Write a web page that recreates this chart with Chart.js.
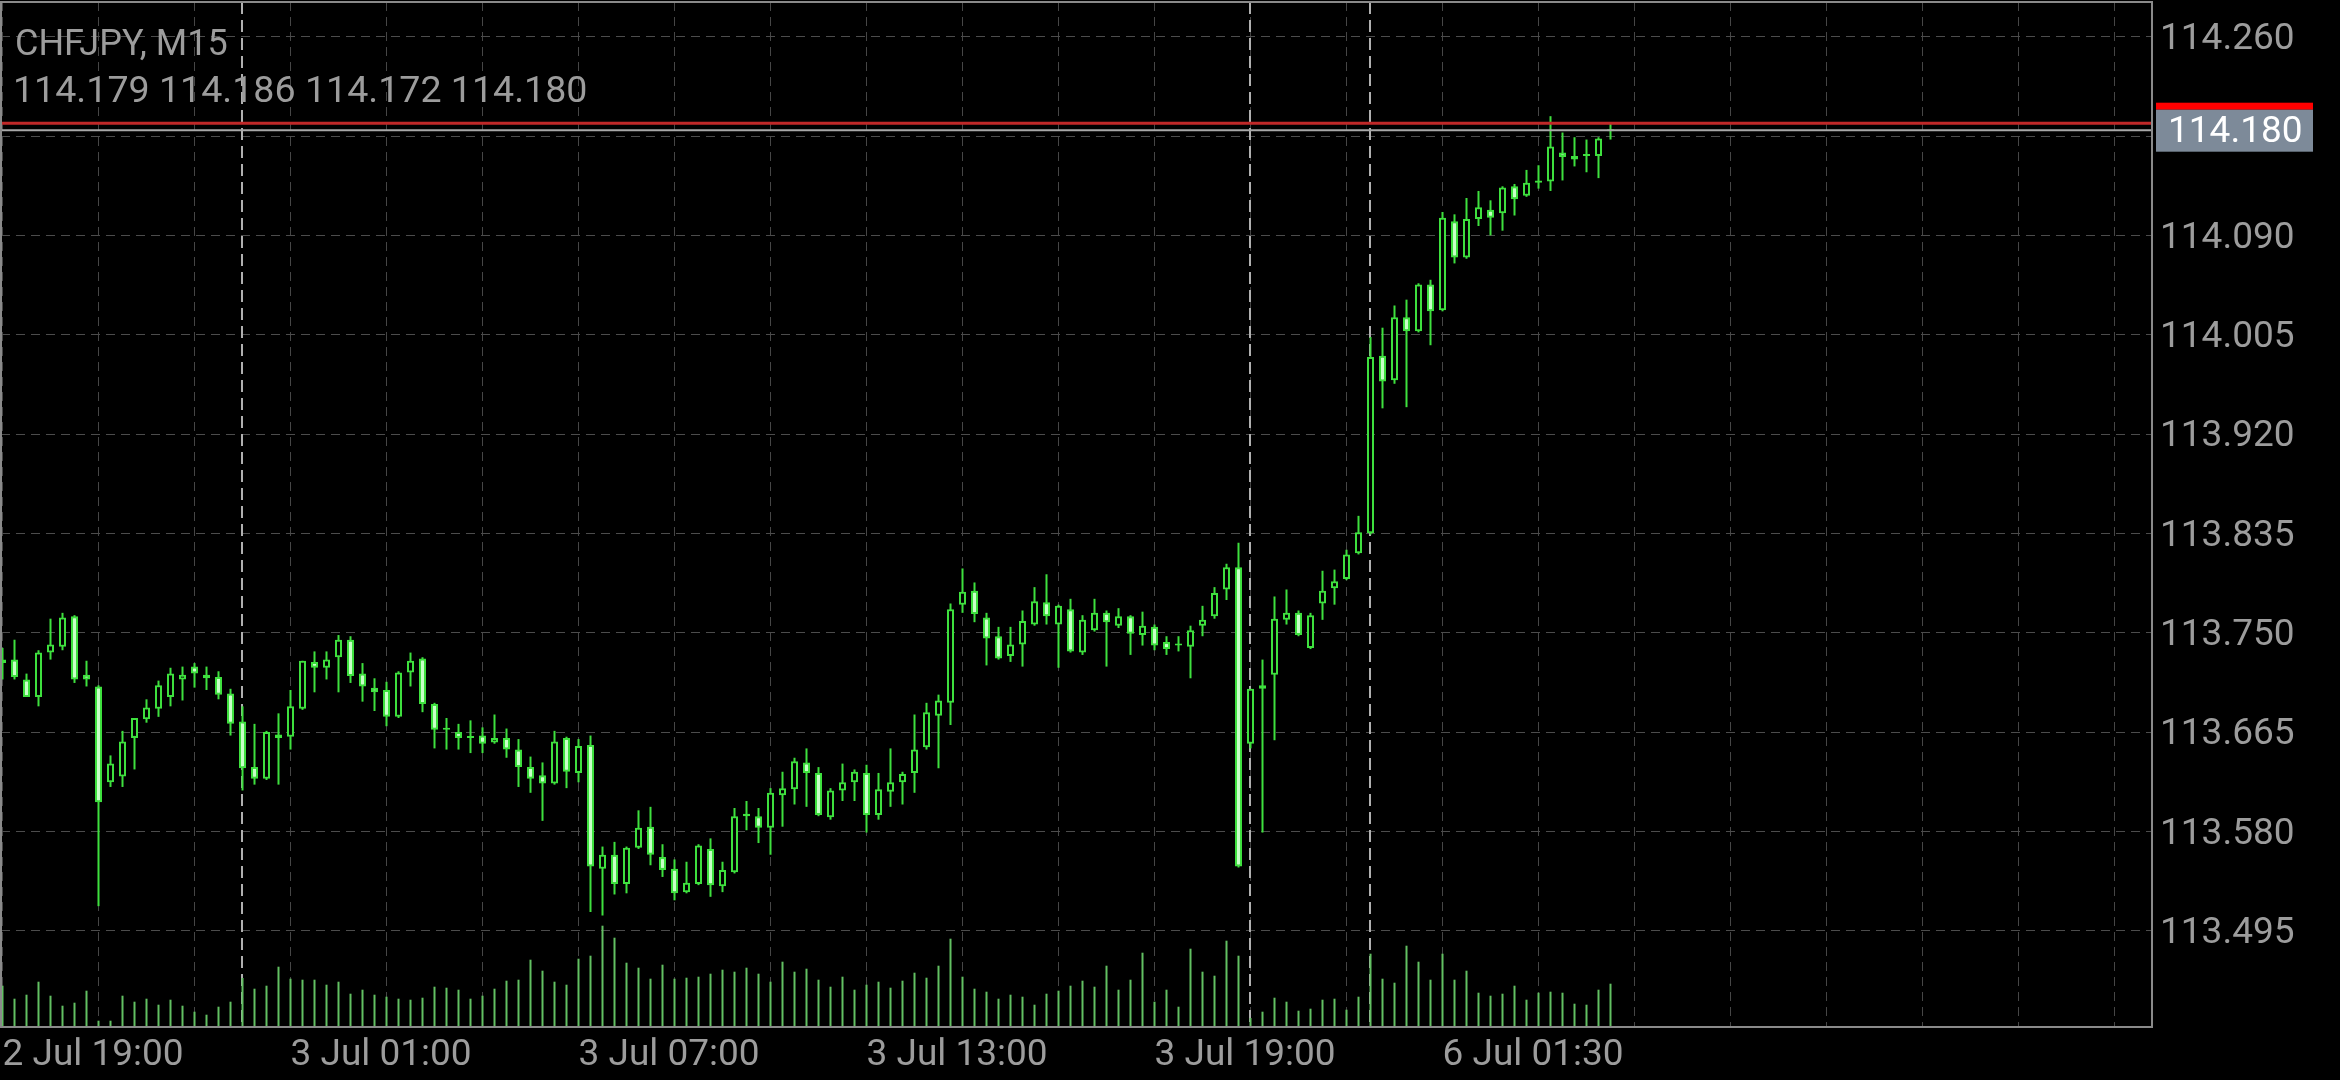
<!DOCTYPE html>
<html><head><meta charset="utf-8">
<script src="https://cdn.jsdelivr.net/npm/chart.js@4/dist/chart.umd.min.js"></script>
<style>html,body{margin:0;padding:0;background:#000;overflow:hidden}canvas{display:block}</style>
</head><body>
<canvas id="c" width="2340" height="1080"></canvas>
<script>
const symbol = "CHFJPY, M15";

const times = [
"2 Jul 19:00","2 Jul 19:15","2 Jul 19:30","2 Jul 19:45","2 Jul 20:00","2 Jul 20:15","2 Jul 20:30","2 Jul 20:45",
"2 Jul 21:00","2 Jul 21:15","2 Jul 21:30","2 Jul 21:45","2 Jul 22:00","2 Jul 22:15","2 Jul 22:30","2 Jul 22:45",
"2 Jul 23:00","2 Jul 23:15","2 Jul 23:30","2 Jul 23:45",
"3 Jul 00:00","3 Jul 00:15","3 Jul 00:30","3 Jul 00:45","3 Jul 01:00","3 Jul 01:15","3 Jul 01:30","3 Jul 01:45",
"3 Jul 02:00","3 Jul 02:15","3 Jul 02:30","3 Jul 02:45","3 Jul 03:00","3 Jul 03:15","3 Jul 03:30","3 Jul 03:45",
"3 Jul 04:00","3 Jul 04:15","3 Jul 04:30","3 Jul 04:45","3 Jul 05:00","3 Jul 05:15","3 Jul 05:30","3 Jul 05:45",
"3 Jul 06:00","3 Jul 06:15","3 Jul 06:30","3 Jul 06:45","3 Jul 07:00","3 Jul 07:15","3 Jul 07:30","3 Jul 07:45",
"3 Jul 08:00","3 Jul 08:15","3 Jul 08:30","3 Jul 08:45","3 Jul 09:00","3 Jul 09:15","3 Jul 09:30","3 Jul 09:45",
"3 Jul 10:00","3 Jul 10:15","3 Jul 10:30","3 Jul 10:45","3 Jul 11:00","3 Jul 11:15","3 Jul 11:30","3 Jul 11:45",
"3 Jul 12:00","3 Jul 12:15","3 Jul 12:30","3 Jul 12:45","3 Jul 13:00","3 Jul 13:15","3 Jul 13:30","3 Jul 13:45",
"3 Jul 14:00","3 Jul 14:15","3 Jul 14:30","3 Jul 14:45","3 Jul 15:00","3 Jul 15:15","3 Jul 15:30","3 Jul 15:45",
"3 Jul 16:00","3 Jul 16:15","3 Jul 16:30","3 Jul 16:45","3 Jul 17:00","3 Jul 17:15","3 Jul 17:30","3 Jul 17:45",
"3 Jul 18:00","3 Jul 18:15","3 Jul 18:30","3 Jul 18:45","3 Jul 19:00","3 Jul 19:15","3 Jul 19:30","3 Jul 19:45",
"3 Jul 20:00","3 Jul 20:15","3 Jul 20:30","3 Jul 20:45",
"5 Jul 21:30","5 Jul 21:45","5 Jul 22:00","5 Jul 22:15","5 Jul 22:30","5 Jul 22:45","5 Jul 23:00","5 Jul 23:15",
"5 Jul 23:30","5 Jul 23:45",
"6 Jul 00:00","6 Jul 00:15","6 Jul 00:30","6 Jul 00:45","6 Jul 01:00","6 Jul 01:15","6 Jul 01:30","6 Jul 01:45",
"6 Jul 02:00","6 Jul 02:15","6 Jul 02:30","6 Jul 02:45","6 Jul 03:00","6 Jul 03:15","6 Jul 03:30","6 Jul 03:45",
"6 Jul 04:00","6 Jul 04:15","6 Jul 04:30","6 Jul 04:45","6 Jul 05:00"
];

const opens = [
113.727,113.727,113.710,113.695,113.733,113.738,113.764,113.714,113.704,113.622,
113.627,113.660,113.676,113.685,113.695,113.710,113.721,113.714,113.712,113.698,
113.674,113.635,113.625,113.660,113.661,113.685,113.725,113.720,113.729,113.744,
113.715,113.703,113.701,113.678,113.716,113.728,113.689,113.667,113.665,113.660,
113.662,113.656,113.660,113.650,113.635,113.628,113.621,113.660,113.630,113.654,
113.548,113.560,113.535,113.566,113.584,113.558,113.548,113.528,113.535,113.565,
113.533,113.545,113.595,113.593,113.583,113.611,113.616,113.639,113.630,113.592,
113.615,113.622,113.630,113.594,113.614,113.622,113.630,113.652,113.679,113.690,
113.774,113.786,113.763,113.747,113.730,113.740,113.757,113.776,113.757,113.770,
113.733,113.752,113.767,113.756,113.764,113.748,113.755,113.742,113.739,113.738,
113.756,113.764,113.787,113.806,113.655,113.702,113.714,113.761,113.767,113.737,
113.775,113.788,113.796,113.818,113.835,113.987,113.966,114.020,114.008,114.048,
114.026,114.102,114.071,114.104,114.112,114.109,114.132,114.124,114.137,114.136,
114.161,114.158,114.158,114.158,114.179
];
const highs = [
113.737,113.744,113.715,113.735,113.762,113.767,113.765,113.726,113.705,113.645,
113.666,113.677,113.693,113.709,113.720,113.721,113.724,113.721,113.717,113.702,
113.687,113.672,113.666,113.681,113.701,113.726,113.734,113.734,113.748,113.747,
113.724,113.711,113.708,113.717,113.733,113.729,113.690,113.677,113.672,113.675,
113.669,113.680,113.668,113.659,113.644,113.639,113.666,113.661,113.659,113.662,
113.567,113.571,113.567,113.598,113.601,113.569,113.556,113.554,113.569,113.574,
113.554,113.600,113.606,113.600,113.617,113.631,113.643,113.651,113.635,113.617,
113.638,113.633,113.637,113.630,113.651,113.631,113.680,113.690,113.697,113.775,
113.805,113.793,113.767,113.755,113.755,113.769,113.789,113.800,113.774,113.779,
113.765,113.779,113.769,113.771,113.765,113.768,113.757,113.747,113.747,113.756,
113.773,113.789,113.809,113.827,113.702,113.727,113.781,113.787,113.769,113.767,
113.803,113.804,113.821,113.850,114.003,114.011,114.030,114.035,114.049,114.052,
114.110,114.108,114.122,114.128,114.120,114.132,114.134,114.146,114.150,114.192,
114.178,114.174,114.172,114.174,114.186
];
const lows = [
113.710,113.710,113.695,113.687,113.727,113.735,113.707,113.704,113.516,113.618,
113.618,113.633,113.673,113.678,113.687,113.692,113.703,113.701,113.693,113.662,
113.615,113.620,113.624,113.620,113.650,113.684,113.699,113.710,113.699,113.707,
113.691,113.683,113.670,113.677,113.704,113.682,113.651,113.650,113.650,113.647,
113.647,113.655,113.643,113.618,113.613,113.589,113.620,113.617,113.622,113.511,
113.508,113.526,113.527,113.565,113.551,113.541,113.521,113.527,113.534,113.524,
113.528,113.544,113.581,113.570,113.560,113.584,113.603,113.601,113.593,113.590,
113.606,113.606,113.579,113.590,113.601,113.603,113.613,113.650,113.634,113.671,
113.767,113.759,113.722,113.727,113.725,113.721,113.756,113.757,113.720,113.733,
113.731,113.751,113.721,113.754,113.731,113.739,113.735,113.731,113.734,113.711,
113.747,113.762,113.778,113.549,113.651,113.579,113.658,113.757,113.747,113.736,
113.761,113.774,113.795,113.817,113.834,113.942,113.963,113.943,114.007,113.996,
114.025,114.066,114.070,114.098,114.090,114.094,114.107,114.123,114.130,114.128,
114.137,114.149,114.144,114.139,114.172
];
const closes = [
113.724,113.712,113.695,113.733,113.740,113.763,113.710,113.710,113.605,113.638,
113.657,113.677,113.686,113.705,113.715,113.714,113.715,113.711,113.697,113.672,
113.634,113.625,113.665,113.663,113.687,113.726,113.720,113.727,113.744,113.713,
113.704,113.699,113.678,113.716,113.726,113.689,113.667,113.667,113.660,113.660,
113.655,113.660,113.650,113.635,113.625,113.621,113.657,113.631,113.653,113.550,
113.560,113.535,113.566,113.583,113.560,113.547,113.527,113.536,113.568,113.534,
113.547,113.593,113.593,113.583,113.613,113.617,113.640,113.630,113.594,113.615,
113.622,113.631,113.594,113.616,113.622,113.629,113.650,113.682,113.692,113.770,
113.785,113.766,113.745,113.728,113.740,113.760,113.777,113.764,113.773,113.734,
113.761,113.767,113.759,113.764,113.749,113.756,113.739,113.736,113.739,113.752,
113.761,113.784,113.806,113.550,113.702,113.705,113.762,113.767,113.748,113.765,
113.786,113.794,113.817,113.836,113.986,113.965,114.020,114.008,114.048,114.025,
114.105,114.071,114.104,114.114,114.105,114.131,114.121,114.135,114.135,114.166,
114.157,114.155,114.158,114.173,114.180
];
const volumes = [
413,283,323,453,313,213,243,363,63,63,
313,253,283,223,273,213,153,123,203,253,
490,383,413,603,483,473,473,423,453,333,
373,323,303,283,273,293,403,393,373,283,
313,383,463,473,673,563,453,423,683,713,
1013,893,643,593,483,623,483,493,503,533,
573,553,593,533,453,653,553,583,473,403,
503,373,423,453,393,463,543,493,613,883,
503,383,353,283,323,303,223,333,363,413,
463,403,613,373,473,743,253,373,203,783,
553,513,863,713,90,153,293,253,163,183,
273,283,173,303,733,483,443,813,653,473,
733,473,563,343,313,333,413,273,343,353,
343,233,223,373,433
];
const priceTicks = [113.495,113.580,113.665,113.750,113.835,113.920,114.005,114.090,114.175,114.260];
const askPrice = 114.186;

const N = times.length;
const GRID_STEP = 8, LABEL_STEP = 24, SLOTS = 180;
const dayOf = t => t.split(' ').slice(0, 2).join(' ');
const separators = [];
for (let i = 1; i < N; i++) if (dayOf(times[i]) !== dayOf(times[i - 1])) separators.push(i);
const gridIdx = [];
for (let i = 0; i < SLOTS; i += GRID_STEP) gridIdx.push(i);

const GREEN = '#3ee03e';
const TXT = '#9c9c9c';
const FONT = 'Roboto, "Noto Sans", sans-serif';

const bodies = times.map((t, i) => ({x: i, y: [opens[i], closes[i]]}));
const wicks = times.map((t, i) => ({x: i, y: [lows[i], highs[i]]}));
const vols = volumes.map((v, i) => ({x: i, y: v}));
const bodyFill = opens.map((o, i) => closes[i] < o ? '#c8ffc8' : '#000000');

const mtPlugin = {
  id: 'mt',
  beforeDatasetsDraw(chart) {
    const {ctx, chartArea: a, scales: {x}} = chart;
    ctx.save();
    ctx.strokeStyle = '#b0b0b0';
    ctx.lineWidth = 2;
    ctx.setLineDash([12, 6]);
    for (const i of separators) {
      const px = Math.round(x.getPixelForValue(i)) - 1;
      ctx.beginPath(); ctx.moveTo(px, a.top); ctx.lineTo(px, a.bottom); ctx.stroke();
    }
    ctx.restore();
  },
  afterDatasetsDraw(chart) {
    const {ctx, chartArea: a, scales: {y}} = chart;
    const bid = closes[N - 1];
    ctx.save();
    const ya = y.getPixelForValue(askPrice);
    ctx.strokeStyle = '#c02828'; ctx.lineWidth = 3;
    ctx.beginPath(); ctx.moveTo(a.left, ya); ctx.lineTo(a.right, ya); ctx.stroke();
    const yb = y.getPixelForValue(bid);
    ctx.strokeStyle = '#a8a8a8'; ctx.lineWidth = 2;
    ctx.beginPath(); ctx.moveTo(a.left, yb); ctx.lineTo(a.right, yb); ctx.stroke();
    ctx.restore();
  },
  afterDraw(chart) {
    const {ctx, chartArea: a, scales: {y}} = chart;
    const bid = closes[N - 1];
    ctx.save();
    ctx.strokeStyle = '#8a8a8a'; ctx.lineWidth = 2;
    ctx.strokeRect(a.left, a.top, a.right - a.left, a.bottom - a.top);
    const yb = y.getPixelForValue(bid);
    ctx.fillStyle = '#ff0000';
    ctx.fillRect(a.right + 4, yb - 27.5, 157, 7);
    ctx.fillStyle = '#7d8a99';
    ctx.fillRect(a.right + 4, yb - 20.5, 157, 42);
    ctx.fillStyle = '#ffffff';
    ctx.font = '37px ' + FONT;
    ctx.textBaseline = 'middle';
    ctx.textAlign = 'left';
    ctx.fillText(bid.toFixed(3), a.right + 16, yb + 3);
    ctx.fillStyle = TXT;
    ctx.textBaseline = 'alphabetic';
    ctx.font = '36px ' + FONT;
    ctx.fillText(symbol, 15, 55);
    ctx.font = '37.6px ' + FONT;
    const L = N - 1;
    ctx.fillText([opens[L], highs[L], lows[L], closes[L]].map(v => v.toFixed(3)).join(' '), 13, 102);
    ctx.restore();
  }
};

new Chart(document.getElementById('c'), {
  type: 'bar',
  data: {
    datasets: [
      {data: bodies, backgroundColor: bodyFill, borderColor: GREEN, borderWidth: 2, borderSkipped: false,
       maxBarThickness: 7, grouped: false, minBarLength: 2, yAxisID: 'y'},
      {data: wicks, backgroundColor: GREEN, borderWidth: 0, maxBarThickness: 2, grouped: false, yAxisID: 'y'},
      {data: vols, backgroundColor: '#62c062', borderWidth: 0, maxBarThickness: 2, grouped: false, yAxisID: 'yv'}
    ]
  },
  options: {
    responsive: false, animation: false, devicePixelRatio: 1,
    layout: {padding: {left: 1, top: 2, right: 0, bottom: 0}},
    plugins: {legend: {display: false}, tooltip: {enabled: false}},
    scales: {
      x: {
        type: 'linear', position: 'bottom', offset: false,
        min: -0.125, max: 179.125,
        grid: {color: '#464646', lineWidth: 1, drawTicks: false, offset: false},
        border: {display: false, dash: [9, 6]},
        ticks: {autoSkip: false, maxRotation: 0, minRotation: 0, align: 'start', padding: 7, color: TXT,
                font: {family: FONT, size: 37},
                callback: v => (v % LABEL_STEP === 0 && v < N) ? times[v] : ''},
        afterBuildTicks: s => { s.ticks = gridIdx.map(v => ({value: v})); },
        afterFit: s => { s.height = 53; s.paddingLeft = 0; s.paddingRight = 0; }
      },
      y: {
        position: 'right', min: 113.4126, max: 114.2897,
        grid: {color: '#4c4c4c', lineWidth: 1, drawTicks: false},
        border: {display: false, dash: [9, 6]},
        ticks: {padding: 8, labelOffset: 3, color: TXT, font: {family: FONT, size: 37}, callback: v => v.toFixed(3)},
        afterBuildTicks: s => { s.ticks = priceTicks.map(v => ({value: v})); },
        afterFit: s => { s.width = 188; s.paddingTop = 0; s.paddingBottom = 0; }
      },
      yv: {display: false, min: 0, max: 10250, grid: {display: false}}
    }
  },
  plugins: [mtPlugin]
});
</script>
</body></html>
